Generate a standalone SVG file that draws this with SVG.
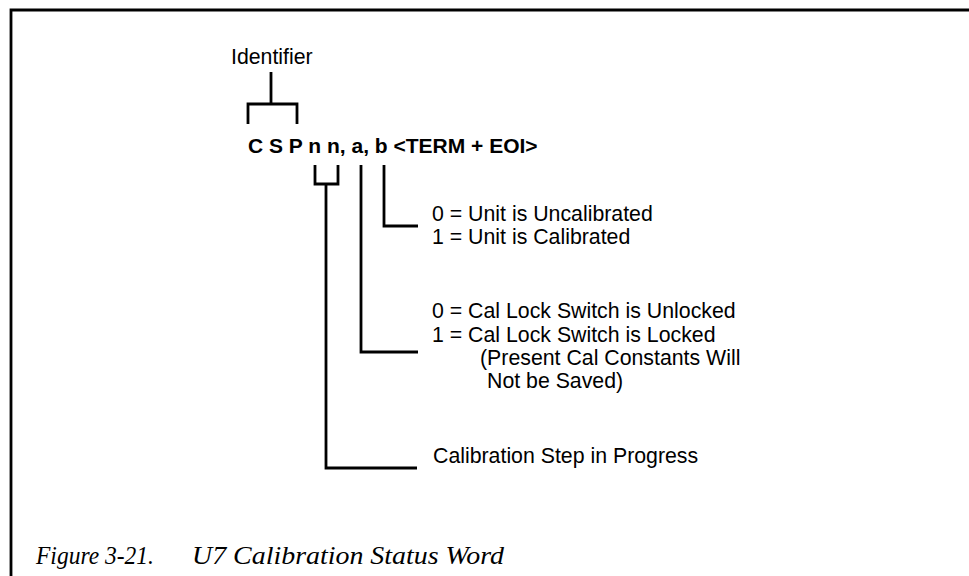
<svg xmlns="http://www.w3.org/2000/svg" width="969" height="576" viewBox="0 0 969 576">
<style>
.ln{fill:none;stroke:#000;stroke-width:2.8;stroke-linecap:butt;stroke-linejoin:miter}
.lbl{font-family:"Liberation Sans",Arial,Helvetica,sans-serif;font-size:21.3px;fill:#000}
.main{font-family:"Liberation Sans",Arial,Helvetica,sans-serif;font-size:21px;font-weight:bold;fill:#000}
.cap{font-family:"Liberation Serif","Times New Roman",serif;font-style:italic;font-size:26px;fill:#000}
</style>
<rect width="969" height="576" fill="#fff"/>
<g id="frame">
<path class="ln" d="M11,576 V10 H969" stroke-width="3"/>
</g>
<g id="identifier">
<text class="lbl" x="231" y="64">Identifier</text>
</g>
<g id="word">
<text class="main" x="248" y="153">C S P n n, a, b &lt;TERM + EOI&gt;</text>
</g>
<g id="b-desc">
<text class="lbl" x="432" y="221">0 = Unit is Uncalibrated</text>
<text class="lbl" x="432" y="244">1 = Unit is Calibrated</text>
</g>
<g id="a-desc">
<text class="lbl" x="432" y="318">0 = Cal Lock Switch is Unlocked</text>
<text class="lbl" x="432" y="342">1 = Cal Lock Switch is Locked</text>
<text class="lbl" x="480" y="365">(Present Cal Constants Will</text>
<text class="lbl" x="487" y="388">Not be Saved)</text>
</g>
<g id="nn-desc">
<text class="lbl" x="433" y="463">Calibration Step in Progress</text>
</g>
<g id="connectors">
<path class="ln" d="M271,72 V104 M248,124 V104 H297 V124"/>
<path class="ln" d="M315,165 V184 H338 V165 M326,184 V468 H417"/>
<path class="ln" d="M361,165 V352 H418"/>
<path class="ln" d="M384,165 V226 H418"/>
</g>
<g id="caption">
<text class="cap" x="36" y="564" textLength="118" lengthAdjust="spacingAndGlyphs">Figure 3-21.</text>
<text class="cap" x="192" y="564" textLength="312" lengthAdjust="spacingAndGlyphs">U7 Calibration Status Word</text>
</g>
</svg>
